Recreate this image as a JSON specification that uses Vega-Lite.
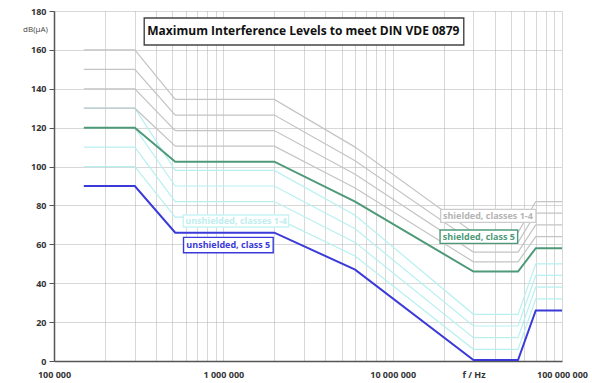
{
  "$schema": "https://vega.github.io/schema/vega-lite/v6.json",
  "width": 508,
  "height": 350,
  "autosize": {"type": "none"},
  "padding": {"left": 54, "top": 11, "right": 30, "bottom": 22},
  "background": "white",
  "config": {
    "view": {"stroke": null},
    "font": "Open Sans"
  },
  "datasets": {
    "lines": [
      {"series": "sh1", "group": "sh14", "f": 150000, "db": 160}, {"series": "sh1", "group": "sh14", "f": 300000, "db": 160}, {"series": "sh1", "group": "sh14", "f": 520000, "db": 134.5}, {"series": "sh1", "group": "sh14", "f": 2000000, "db": 134.5}, {"series": "sh1", "group": "sh14", "f": 6000000, "db": 110}, {"series": "sh1", "group": "sh14", "f": 30000000, "db": 66}, {"series": "sh1", "group": "sh14", "f": 55000000, "db": 66}, {"series": "sh1", "group": "sh14", "f": 70000000, "db": 82}, {"series": "sh1", "group": "sh14", "f": 100000000, "db": 82},
      {"series": "sh2", "group": "sh14", "f": 150000, "db": 150}, {"series": "sh2", "group": "sh14", "f": 300000, "db": 150}, {"series": "sh2", "group": "sh14", "f": 520000, "db": 126.5}, {"series": "sh2", "group": "sh14", "f": 2000000, "db": 126.5}, {"series": "sh2", "group": "sh14", "f": 6000000, "db": 103}, {"series": "sh2", "group": "sh14", "f": 30000000, "db": 61}, {"series": "sh2", "group": "sh14", "f": 55000000, "db": 61}, {"series": "sh2", "group": "sh14", "f": 70000000, "db": 76}, {"series": "sh2", "group": "sh14", "f": 100000000, "db": 76},
      {"series": "sh3", "group": "sh14", "f": 150000, "db": 140}, {"series": "sh3", "group": "sh14", "f": 300000, "db": 140}, {"series": "sh3", "group": "sh14", "f": 520000, "db": 118.5}, {"series": "sh3", "group": "sh14", "f": 2000000, "db": 118.5}, {"series": "sh3", "group": "sh14", "f": 6000000, "db": 96}, {"series": "sh3", "group": "sh14", "f": 30000000, "db": 56}, {"series": "sh3", "group": "sh14", "f": 55000000, "db": 56}, {"series": "sh3", "group": "sh14", "f": 70000000, "db": 70}, {"series": "sh3", "group": "sh14", "f": 100000000, "db": 70},
      {"series": "sh4", "group": "sh14", "f": 150000, "db": 130}, {"series": "sh4", "group": "sh14", "f": 300000, "db": 130}, {"series": "sh4", "group": "sh14", "f": 520000, "db": 110.5}, {"series": "sh4", "group": "sh14", "f": 2000000, "db": 110.5}, {"series": "sh4", "group": "sh14", "f": 6000000, "db": 89}, {"series": "sh4", "group": "sh14", "f": 30000000, "db": 51}, {"series": "sh4", "group": "sh14", "f": 55000000, "db": 51}, {"series": "sh4", "group": "sh14", "f": 70000000, "db": 64}, {"series": "sh4", "group": "sh14", "f": 100000000, "db": 64},
      {"series": "un1", "group": "un14", "f": 150000, "db": 130}, {"series": "un1", "group": "un14", "f": 300000, "db": 130}, {"series": "un1", "group": "un14", "f": 520000, "db": 98}, {"series": "un1", "group": "un14", "f": 2000000, "db": 98}, {"series": "un1", "group": "un14", "f": 6000000, "db": 75}, {"series": "un1", "group": "un14", "f": 30000000, "db": 24}, {"series": "un1", "group": "un14", "f": 55000000, "db": 24}, {"series": "un1", "group": "un14", "f": 70000000, "db": 50}, {"series": "un1", "group": "un14", "f": 100000000, "db": 50},
      {"series": "un2", "group": "un14", "f": 150000, "db": 120}, {"series": "un2", "group": "un14", "f": 300000, "db": 120}, {"series": "un2", "group": "un14", "f": 520000, "db": 90}, {"series": "un2", "group": "un14", "f": 2000000, "db": 90}, {"series": "un2", "group": "un14", "f": 6000000, "db": 68}, {"series": "un2", "group": "un14", "f": 30000000, "db": 18}, {"series": "un2", "group": "un14", "f": 55000000, "db": 18}, {"series": "un2", "group": "un14", "f": 70000000, "db": 44}, {"series": "un2", "group": "un14", "f": 100000000, "db": 44},
      {"series": "un3", "group": "un14", "f": 150000, "db": 110}, {"series": "un3", "group": "un14", "f": 300000, "db": 110}, {"series": "un3", "group": "un14", "f": 520000, "db": 82}, {"series": "un3", "group": "un14", "f": 2000000, "db": 82}, {"series": "un3", "group": "un14", "f": 6000000, "db": 61}, {"series": "un3", "group": "un14", "f": 30000000, "db": 12}, {"series": "un3", "group": "un14", "f": 55000000, "db": 12}, {"series": "un3", "group": "un14", "f": 70000000, "db": 38}, {"series": "un3", "group": "un14", "f": 100000000, "db": 38},
      {"series": "un4", "group": "un14", "f": 150000, "db": 100}, {"series": "un4", "group": "un14", "f": 300000, "db": 100}, {"series": "un4", "group": "un14", "f": 520000, "db": 74}, {"series": "un4", "group": "un14", "f": 2000000, "db": 74}, {"series": "un4", "group": "un14", "f": 6000000, "db": 54}, {"series": "un4", "group": "un14", "f": 30000000, "db": 6}, {"series": "un4", "group": "un14", "f": 55000000, "db": 6}, {"series": "un4", "group": "un14", "f": 70000000, "db": 32}, {"series": "un4", "group": "un14", "f": 100000000, "db": 32},
      {"series": "sh5", "group": "sh5", "f": 150000, "db": 120}, {"series": "sh5", "group": "sh5", "f": 300000, "db": 120}, {"series": "sh5", "group": "sh5", "f": 520000, "db": 102.5}, {"series": "sh5", "group": "sh5", "f": 2000000, "db": 102.5}, {"series": "sh5", "group": "sh5", "f": 6000000, "db": 82}, {"series": "sh5", "group": "sh5", "f": 30000000, "db": 46}, {"series": "sh5", "group": "sh5", "f": 55000000, "db": 46}, {"series": "sh5", "group": "sh5", "f": 70000000, "db": 58}, {"series": "sh5", "group": "sh5", "f": 100000000, "db": 58},
      {"series": "un5", "group": "un5", "f": 150000, "db": 90}, {"series": "un5", "group": "un5", "f": 300000, "db": 90}, {"series": "un5", "group": "un5", "f": 520000, "db": 66}, {"series": "un5", "group": "un5", "f": 2000000, "db": 66}, {"series": "un5", "group": "un5", "f": 6000000, "db": 47}, {"series": "un5", "group": "un5", "f": 30000000, "db": 0.5}, {"series": "un5", "group": "un5", "f": 55000000, "db": 0.5}, {"series": "un5", "group": "un5", "f": 70000000, "db": 26}, {"series": "un5", "group": "un5", "f": 100000000, "db": 26}
    ],
    "notes": [
      {"kind": "title", "text": "Maximum Interference Levels to meet DIN VDE 0879", "f1": 341000, "f2": 26300000, "d1": 176.4, "d2": 162.5, "fx": 2970000, "dy": 169.5},
      {"kind": "sh14", "text": "shielded, classes 1-4", "f1": 19200000, "f2": 70200000, "d1": 78.0, "d2": 71.3, "fx": 36500000, "dy": 74.6},
      {"kind": "sh5", "text": "shielded, class 5", "f1": 19050000, "f2": 54700000, "d1": 67.4, "d2": 60.5, "fx": 32300000, "dy": 63.9},
      {"kind": "un5", "text": "unshielded, class 5", "f1": 582000, "f2": 1970000, "d1": 63.6, "d2": 55.7, "fx": 1070000, "dy": 59.7},
      {"kind": "un14", "text": "unshielded, classes 1-4", "f1": 580000, "f2": 2430000, "d1": 75.1, "d2": 68.9, "fx": 1190000, "dy": 72.0}
    ]
  },
  "encoding": {
    "x": {
      "field": "f", "type": "quantitative",
      "scale": {"type": "log", "domain": [100000, 100000000], "nice": false},
      "axis": {
        "title": null,
        "values": [100000, 200000, 300000, 400000, 500000, 600000, 700000, 800000, 900000, 1000000, 2000000, 3000000, 4000000, 5000000, 6000000, 7000000, 8000000, 9000000, 10000000, 20000000, 30000000, 40000000, 50000000, 60000000, 70000000, 80000000, 90000000, 100000000],
        "labelExpr": "datum.value == 30000000 ? 'f / Hz' : (indexof([100000, 1000000, 10000000, 100000000], datum.value) >= 0 ? replace(format(datum.value, ','), regexp(',', 'g'), ' ') : '')",
        "labelFont": "Open Sans", "labelFontSize": 9, "labelFontWeight": "bold", "labelColor": "#333333",
        "labelPadding": 9, "labelFlush": false, "labelOverlap": false,
        "ticks": false,
        "grid": true, "gridColor": "#b0b0b0", "gridDash": [1, 1], "gridWidth": 1,
        "domainColor": "#555555", "domainWidth": 1.5
      }
    },
    "y": {
      "field": "db", "type": "quantitative",
      "scale": {"domain": [0, 180], "nice": false},
      "axis": {
        "title": "dB(µA)", "titleAngle": 0, "titleX": -19, "titleY": 18, "titleAlign": "center", "titleBaseline": "middle",
        "titleFont": "Open Sans", "titleFontSize": 8, "titleFontWeight": "normal", "titleColor": "#444444",
        "values": [0, 20, 40, 60, 80, 100, 120, 140, 160, 180],
        "labelFont": "Open Sans", "labelFontSize": 9, "labelFontWeight": "bold", "labelColor": "#333333",
        "labelPadding": 3,
        "tickColor": "#555555", "tickSize": 5,
        "grid": true, "gridColor": "#b0b0b0", "gridDash": [1, 1], "gridWidth": 1,
        "domainColor": "#555555", "domainWidth": 1.5
      }
    }
  },
  "layer": [
    {"data": {"name": "lines"}, "transform": [{"filter": "datum.group == 'un14'"}], "mark": {"type": "line", "color": "#b8f0f0", "strokeWidth": 1.2}, "encoding": {"detail": {"field": "series"}}},
    {"data": {"name": "lines"}, "transform": [{"filter": "datum.group == 'sh14'"}], "mark": {"type": "line", "color": "#c4c4c4", "strokeWidth": 1.2}, "encoding": {"detail": {"field": "series"}}},
    {"data": {"name": "lines"}, "transform": [{"filter": "datum.group == 'sh5'"}], "mark": {"type": "line", "color": "#4e9a78", "strokeWidth": 2}, "encoding": {}},
    {"data": {"name": "lines"}, "transform": [{"filter": "datum.group == 'un5'"}], "mark": {"type": "line", "color": "#3a3ad8", "strokeWidth": 2}, "encoding": {}},
    {
      "data": {"name": "notes"},
      "mark": {"type": "rect", "fill": "white", "strokeWidth": 1.4},
      "encoding": {
        "x": {"field": "f1", "type": "quantitative"},
        "x2": {"field": "f2"},
        "y": {"field": "d1", "type": "quantitative"},
        "y2": {"field": "d2"},
        "stroke": {"field": "kind", "type": "nominal", "legend": null, "scale": {"domain": ["title", "sh14", "sh5", "un5", "un14"], "range": ["#444444", "#cccccc", "#4e9a78", "#3a3ad8", "#c8f4f4"]}}
      }
    },
    {
      "data": {"name": "notes"},
      "transform": [{"filter": "datum.kind == 'title'"}],
      "mark": {"type": "text", "font": "Open Sans", "fontWeight": "bold", "fontSize": 12, "color": "#111111", "align": "center", "baseline": "middle"},
      "encoding": {
        "x": {"field": "fx", "type": "quantitative"},
        "y": {"field": "dy", "type": "quantitative"},
        "text": {"field": "text"}
      }
    },
    {
      "data": {"name": "notes"},
      "transform": [{"filter": "datum.kind != 'title'"}],
      "mark": {"type": "text", "font": "Open Sans", "fontWeight": "bold", "fontSize": 9, "align": "center", "baseline": "middle"},
      "encoding": {
        "x": {"field": "fx", "type": "quantitative"},
        "y": {"field": "dy", "type": "quantitative"},
        "text": {"field": "text"},
        "fill": {"field": "kind", "type": "nominal", "legend": null, "scale": {"domain": ["sh14", "sh5", "un5", "un14"], "range": ["#b4b4b4", "#4e9a78", "#3a3ad8", "#c0eeee"]}}
      }
    }
  ]
}
